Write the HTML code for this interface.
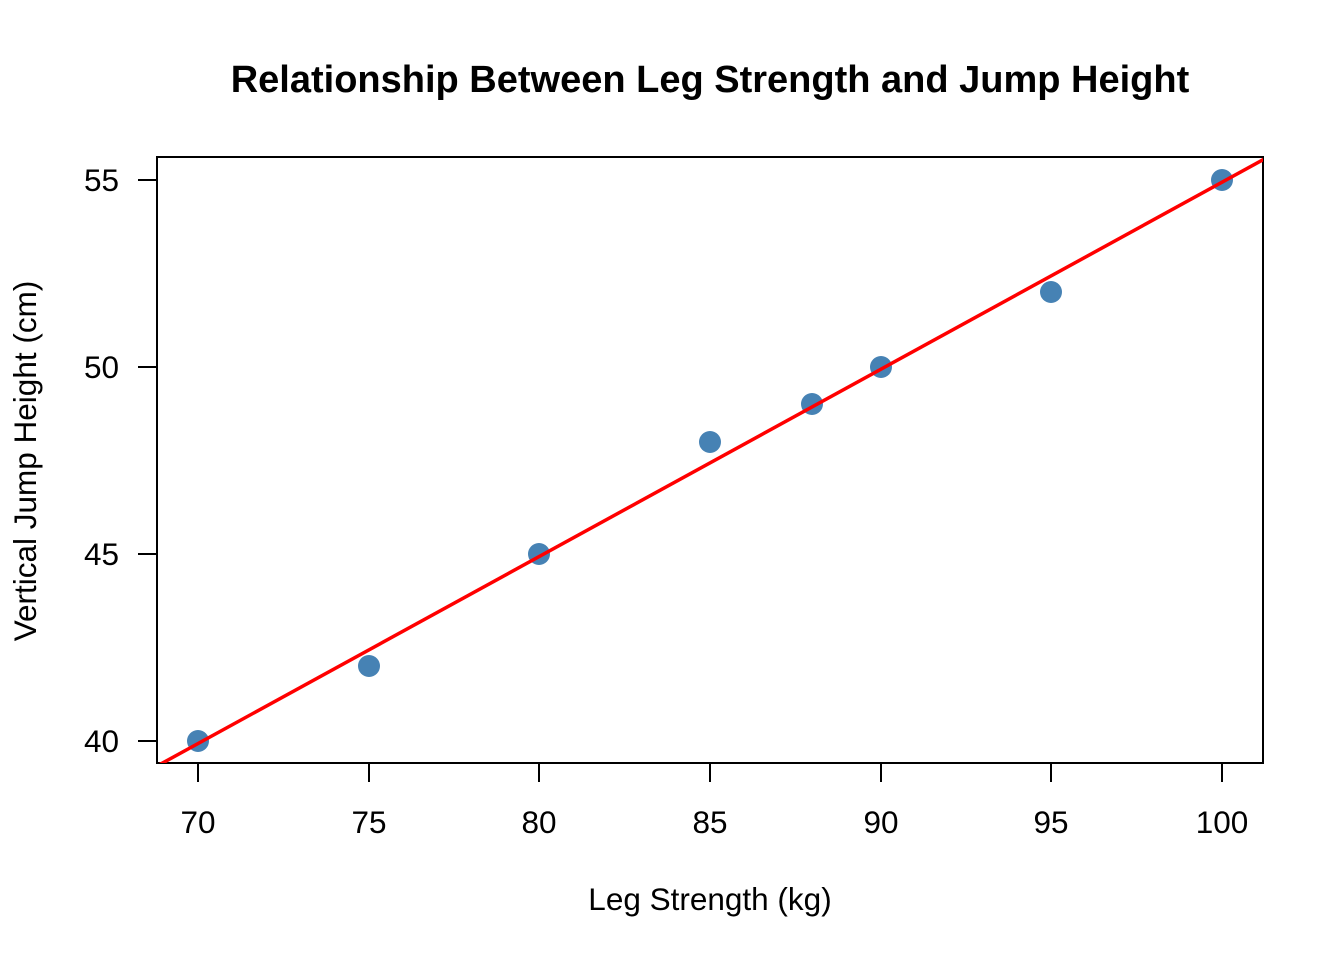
<!DOCTYPE html>
<html><head><style>body{margin:0;background:#fff}</style></head><body>
<svg width="1344" height="960" xmlns="http://www.w3.org/2000/svg" font-family="Liberation Sans, sans-serif">
<defs><clipPath id="c"><rect x="157" y="157" width="1106" height="606"/></clipPath></defs>
<rect width="1344" height="960" fill="#fff"/>
<text x="710" y="92" font-size="38" font-weight="bold" text-anchor="middle">Relationship Between Leg Strength and Jump Height</text>
<rect x="157" y="157" width="1106" height="606" fill="none" stroke="#000" stroke-width="2"/>
<g stroke="#000" stroke-width="2">
<line x1="198" y1="763" x2="198" y2="782"/><line x1="369" y1="763" x2="369" y2="782"/><line x1="539" y1="763" x2="539" y2="782"/><line x1="710" y1="763" x2="710" y2="782"/><line x1="881" y1="763" x2="881" y2="782"/><line x1="1051" y1="763" x2="1051" y2="782"/><line x1="1222" y1="763" x2="1222" y2="782"/>
<line x1="138" y1="741" x2="157" y2="741"/><line x1="138" y1="554" x2="157" y2="554"/><line x1="138" y1="367" x2="157" y2="367"/><line x1="138" y1="180" x2="157" y2="180"/>
</g>
<g font-size="31.5" text-anchor="middle">
<text x="198" y="833">70</text><text x="369" y="833">75</text><text x="539" y="833">80</text><text x="710" y="833">85</text><text x="881" y="833">90</text><text x="1051" y="833">95</text><text x="1222" y="833">100</text>
</g>
<g font-size="31.5" text-anchor="end">
<text x="119" y="752">40</text><text x="119" y="565">45</text><text x="119" y="378">50</text><text x="119" y="191">55</text>
</g>
<text x="710" y="910" font-size="31.5" text-anchor="middle">Leg Strength (kg)</text>
<text transform="translate(36,461) rotate(-90)" font-size="31.5" text-anchor="middle">Vertical Jump Height (cm)</text>
<g fill="#4682B4">
<circle cx="198" cy="741" r="11"/><circle cx="369" cy="666" r="11"/><circle cx="539" cy="554" r="11"/><circle cx="710" cy="442" r="11"/><circle cx="812" cy="404" r="11"/><circle cx="881" cy="367" r="11"/><circle cx="1051" cy="292" r="11"/><circle cx="1222" cy="180" r="11"/>
</g>
<line x1="129.7" y1="781" x2="1290.3" y2="144.8" stroke="#f00" stroke-width="3.5" clip-path="url(#c)"/>
</svg>
</body></html>
